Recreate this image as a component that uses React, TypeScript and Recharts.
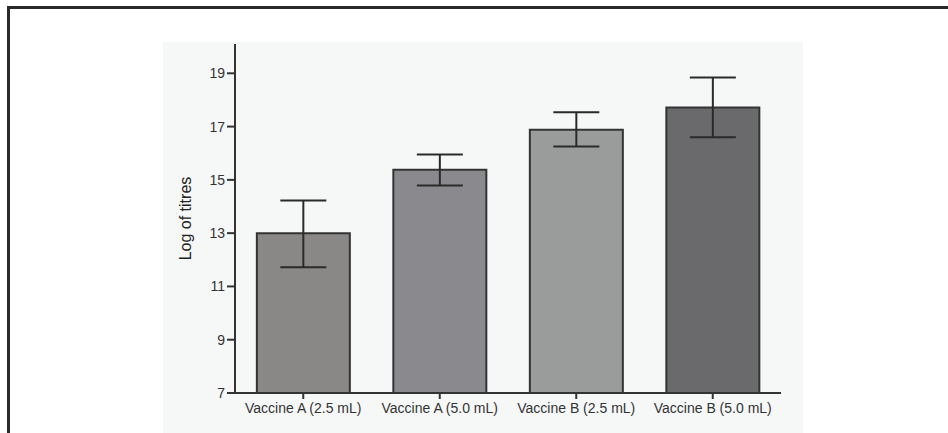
import { BarChart, Bar, XAxis, YAxis, ErrorBar, Cell } from 'recharts';

const groups = [
  'Vaccine A (2.5 mL)',
  'Vaccine A (5.0 mL)',
  'Vaccine B (2.5 mL)',
  'Vaccine B (5.0 mL)',
];
const titres = [13.0, 15.38, 16.88, 17.72];
const errLow = [1.28, 0.59, 0.63, 1.12];
const errHigh = [1.23, 0.57, 0.66, 1.12];
const yTicks = [7, 9, 11, 13, 15, 17, 19];
const barColors = ['#8a8787', '#8a8a8e', '#9a9c9b', '#6a696c'];

const data = groups.map((name, i) => ({
  name,
  value: titres[i],
  err: [errLow[i], errHigh[i]],
}));

const font = '"Liberation Sans", Arial, sans-serif';

export default function App() {
  return (
    <div style={{ position: 'absolute', left: 0, top: 0, width: 948, height: 433, background: '#fff', overflow: 'hidden' }}>
      {/* scanned panel background + frame */}
      <div style={{ position: 'absolute', left: 163, top: 42, width: 640, height: 391, background: '#f6f8f8' }} />
      <div
        style={{
          position: 'absolute',
          left: 7,
          top: 6,
          width: 948,
          height: 440,
          borderTop: '3px solid #2a2a2a',
          borderLeft: '3px solid #2a2a2a',
        }}
      />
      <div style={{ position: 'absolute', left: 0, top: 0 }}>
        <BarChart
          width={948}
          height={433}
          data={data}
          margin={{ top: 44, right: 167, bottom: 10, left: 165 }}
          barCategoryGap="16%"
        >
          <XAxis
            dataKey="name"
            height={30}
            stroke="#333"
            strokeWidth={2}
            tickSize={6}
            tickMargin={4}
            tick={{ fill: '#333', fontSize: 14, fontFamily: font }}
            interval={0}
          />
          <YAxis
            width={70}
            domain={[7, 20.1]}
            ticks={yTicks}
            allowDataOverflow
            stroke="#333"
            strokeWidth={2}
            tickSize={8}
            tickMargin={2}
            tick={{ fill: '#333', fontSize: 14, fontFamily: font }}
            label={{
              value: 'Log of titres',
              angle: -90,
              position: 'insideLeft',
              offset: 20,
              style: { fill: '#222', fontSize: 16, fontFamily: font, textAnchor: 'middle' },
            }}
          />
          <Bar dataKey="value" stroke="#333" strokeWidth={2} isAnimationActive={false}>
            {data.map((d, i) => (
              <Cell key={d.name} fill={barColors[i]} />
            ))}
            <ErrorBar dataKey="err" width={23} stroke="#2a2a2a" strokeWidth={2} direction="y" />
          </Bar>
        </BarChart>
      </div>
    </div>
  );
}
